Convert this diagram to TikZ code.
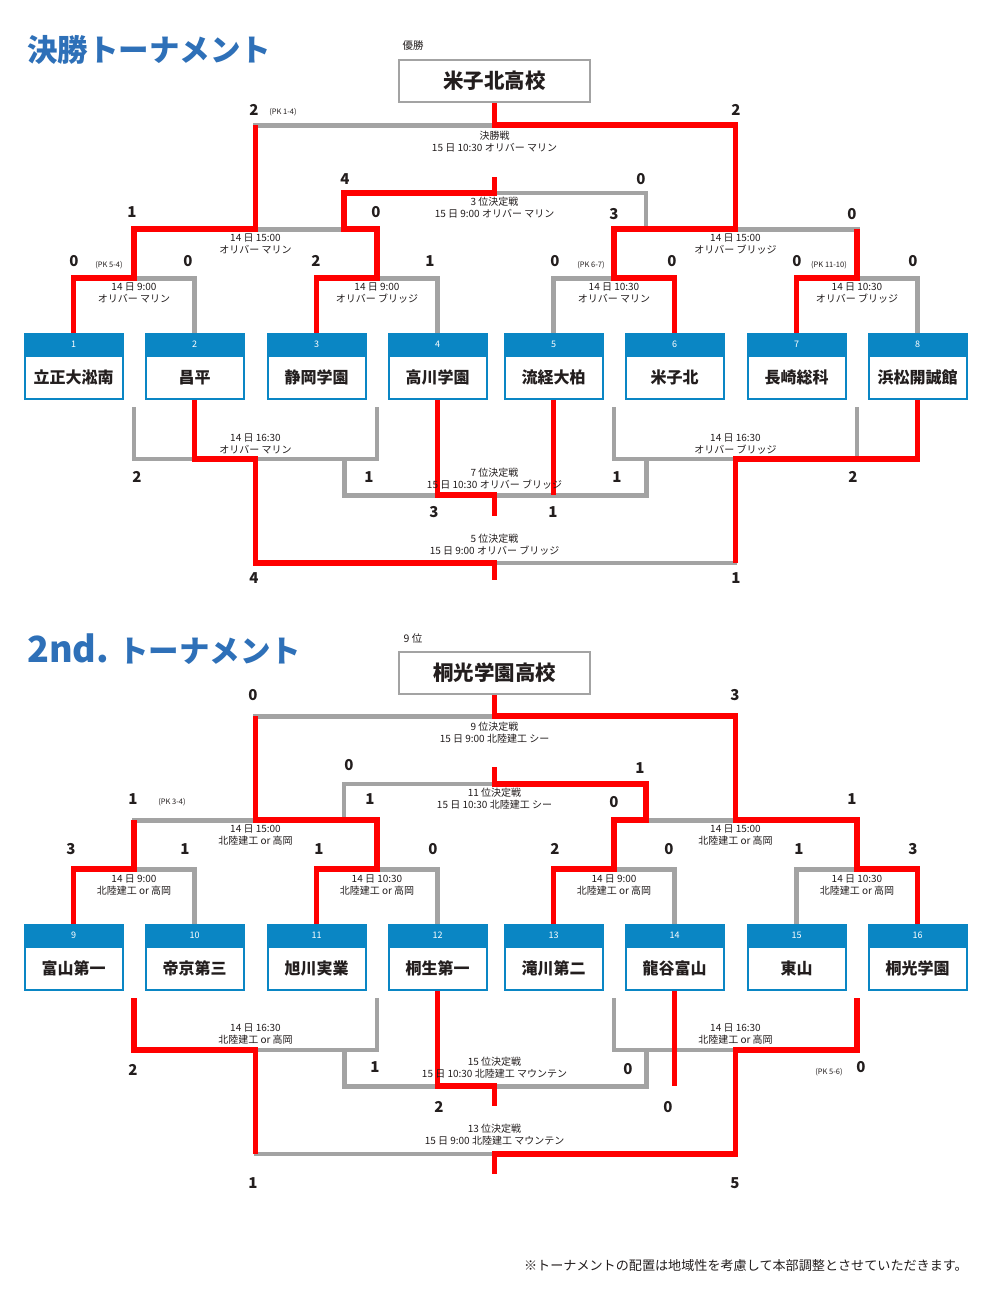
\documentclass[tikz,border=0pt]{standalone}
\usepackage{fontspec}
\setmainfont{Noto Sans CJK JP}

\definecolor{winred}{RGB}{255,0,0}
\definecolor{losegray}{RGB}{163,163,163}
\definecolor{boxblue}{RGB}{10,134,196}
\definecolor{titleblue}{RGB}{46,112,184}
\definecolor{ink}{RGB}{35,30,30}

\tikzset{
  win/.style={draw=winred, line width=5.5pt},
  lose/.style={draw=losegray, line width=5pt},
  thinlose/.style={draw=losegray, line width=3.5pt},
  team/.style={draw=boxblue, line width=2pt, fill=white, minimum width=98pt, minimum height=43pt, inner sep=0pt, font=\bfseries\fontsize{16}{16}\selectfont},
  head/.style={fill=boxblue, minimum width=100pt, minimum height=22pt, inner sep=0pt, text=white, font=\fontsize{9}{9}\selectfont},
  champ/.style={draw=losegray, line width=2pt, minimum width=191pt, minimum height=42pt, inner sep=0pt, font=\bfseries\fontsize{20.5}{20.5}\selectfont},
  score/.style={inner sep=0pt, font=\bfseries\fontsize{15}{15}\selectfont},
  pk/.style={inner sep=0pt, font=\fontsize{7.5}{7.5}\selectfont},
  info/.style={inner sep=0pt, align=center, font=\fontsize{10}{12}\selectfont},
  heading/.style={anchor=west, inner sep=0pt, text=titleblue, font=\bfseries\fontsize{30.5}{30.5}\selectfont},
  rank/.style={inner sep=0pt, font=\fontsize{10.5}{10.5}\selectfont}
}

\begin{document}
\begin{tikzpicture}[x=1pt, y=-1pt, every node/.style={text=ink}]

\fill[white] (0,0) rectangle (1000,1298);
\useasboundingbox (0,0) rectangle (1000,1298);

% headings
\node[heading] (title1) at (27,50) {決勝トーナメント};
\node[heading] (title2) at (27,649) {{\fontsize{36}{36}\selectfont 2nd.} トーナメント};
\node[rank] (rank1) at (413,46) {優勝};
\node[rank] (rank2) at (413,639) {9 位};
\node[champ] (achamp) at (494.5,81) {米子北高校};
\node[champ] (bchamp) at (494.5,673) {桐光学園高校};

% team boxes
\foreach \p/\k/\x/\y/\name [count=\n] in {
  a/1/73.5/377.5/立正大淞南, a/2/194.5/377.5/昌平, a/3/316.5/377.5/静岡学園, a/4/437.5/377.5/高川学園,
  a/5/553.5/377.5/流経大柏, a/6/674.5/377.5/米子北, a/7/796.5/377.5/長崎総科, a/8/917.5/377.5/浜松開誠館,
  b/1/73.5/968.5/富山第一, b/2/194.5/968.5/帝京第三, b/3/316.5/968.5/旭川実業, b/4/437.5/968.5/桐生第一,
  b/5/553.5/968.5/滝川第二, b/6/674.5/968.5/龍谷富山, b/7/796.5/968.5/東山, b/8/917.5/968.5/桐光学園}
{
  \node[head] (\p h\k) at (\x,\y-33.5) {\n};
  \node[team] (\p t\k) at (\x,\y) {\name};
}

% bracket lines, same for both tournaments
\foreach \p/\dy in {a/0, b/591}
{
\begin{scope}[shift={(0,\dy)}]
  \coordinate (\p m1) at (134,278);
  \coordinate (\p m2) at (377,278);
  \coordinate (\p m3) at (614,278);
  \coordinate (\p m4) at (857,278);
  \coordinate (\p s1) at (255.5,229);
  \coordinate (\p s2) at (735.5,229);
  \coordinate (\p f) at (494.5,125);
  \coordinate (\p p3) at (494.5,193);
  \coordinate (\p p3l) at (344,229);
  \coordinate (\p p3r) at (646,229);
  \coordinate (\p u1) at (134,407);
  \coordinate (\p u2) at (377,407);
  \coordinate (\p u3) at (614,407);
  \coordinate (\p u4) at (857,407);
  \coordinate (\p c1) at (255.5,459);
  \coordinate (\p c2) at (735.5,459);
  \coordinate (\p v1) at (344,459);
  \coordinate (\p v2) at (646,459);
  \coordinate (\p p7) at (494.5,495);
  \coordinate (\p p5) at (494.5,563);
\end{scope}
  \draw[lose] (\p h1.north) |- (\p m1) -| (\p h2.north);
  \draw[lose] (\p h3.north) |- (\p m2) -| (\p h4.north);
  \draw[lose] (\p h5.north) |- (\p m3) -| (\p h6.north);
  \draw[lose] (\p h7.north) |- (\p m4) -| (\p h8.north);
  \draw[lose] (\p m1) |- (\p s1) -| (\p m2);
  \draw[lose] (\p m3) |- (\p s2) -| (\p m4);
  \draw[lose] (\p s1) |- (\p f) -| (\p s2);
  \draw[thinlose] (\p p3l) |- (\p p3) -| (\p p3r);
  \draw[thinlose] (\p u1) |- (\p c1) -| (\p u2);
  \draw[thinlose] (\p u3) |- (\p c2) -| (\p u4);
  \draw[lose] (\p v1) |- (\p p7) -| (\p v2);
  \draw[thinlose] (\p c1) |- (\p p5) -| (\p c2);
}

% winners, top
\draw[win] (ah1.north) |- (am1) -- (am1 |- as1) -- (as1) -- (as1 |- af);
\draw[win] (ah3.north) |- (am2) -- (am2 |- as1) -- (ap3l) |- (ap3) -- ++(0,-16);
\draw[win] (ah6.north) |- (am3) -- (am3 |- as2) -- (as2) |- (af) -- (achamp.south);
\draw[win] (ah7.north) |- (am4) -- (am4 |- as2);
\draw[win] (at2.south) |- (ac1) -- (ac1 |- ap5) -- (ap5) -- ++(0,17);
\draw[win] (at4.south) |- (ap7) -- ++(0,21);
\draw[win] (at5.south) -- (at5.south |- ap7);
\draw[win] (at8.south) |- (ac2) -- (ac2 |- ap5);

% winners, bottom
\draw[win] (bh1.north) |- (bm1) -- (bm1 |- bs1);
\draw[win] (bh3.north) |- (bm2) -- (bm2 |- bs1) -- (bs1) -- (bs1 |- bf);
\draw[win] (bh5.north) |- (bm3) -- (bm3 |- bs2) -- (bp3r) |- (bp3) -- ++(0,-17);
\draw[win] (bh8.north) |- (bm4) -- (bm4 |- bs2) -- (bs2) |- (bf) -- (bchamp.south);
\draw[win] (bu1) |- (bc1) -- (bc1 |- bp5);
\draw[win] (bu4) |- (bc2) -- (bc2 |- bp5) -- (bp5) -- ++(0,20);
\draw[win] (bt4.south) |- (bp7) -- ++(0,20);
\draw[win] (bt6.south) -- (bt6.south |- bp7);

% match labels
\foreach \at/\anc/\sh/\txt [count=\i] in {
  af/north/-6/{決勝戦\\15 日 10:30 オリバー マリン},
  ap3/north/-4/{3 位決定戦\\15 日 9:00 オリバー マリン},
  as1/north/-5/{14 日 15:00\\オリバー マリン},
  as2/north/-5/{14 日 15:00\\オリバー ブリッジ},
  am1/north/-5/{14 日 9:00\\オリバー マリン},
  am2/north/-5/{14 日 9:00\\オリバー ブリッジ},
  am3/north/-5/{14 日 10:30\\オリバー マリン},
  am4/north/-5/{14 日 10:30\\オリバー ブリッジ},
  ac1/south/5/{14 日 16:30\\オリバー マリン},
  ac2/south/5/{14 日 16:30\\オリバー ブリッジ},
  ap7/south/6/{7 位決定戦\\15 日 10:30 オリバー ブリッジ},
  ap5/south/8/{5 位決定戦\\15 日 9:00 オリバー ブリッジ},
  bf/north/-6/{9 位決定戦\\15 日 9:00 北陸建工 シー},
  bp3/north/-4/{11 位決定戦\\15 日 10:30 北陸建工 シー},
  bs1/north/-5/{14 日 15:00\\北陸建工 or 高岡},
  bs2/north/-5/{14 日 15:00\\北陸建工 or 高岡},
  bm1/north/-6/{14 日 9:00\\北陸建工 or 高岡},
  bm2/north/-6/{14 日 10:30\\北陸建工 or 高岡},
  bm3/north/-6/{14 日 9:00\\北陸建工 or 高岡},
  bm4/north/-6/{14 日 10:30\\北陸建工 or 高岡},
  bc1/south/5/{14 日 16:30\\北陸建工 or 高岡},
  bc2/south/5/{14 日 16:30\\北陸建工 or 高岡},
  bp7/south/7.5/{15 位決定戦\\15 日 10:30 北陸建工 マウンテン},
  bp5/south/8/{13 位決定戦\\15 日 9:00 北陸建工 マウンテン}}
  \node[info, anchor=\anc, yshift=\sh pt] (inf\i) at (\at) {\txt};

% scores
\foreach \x/\y/\s [count=\i] in {
  254/110/2, 736/110/2, 345/179/4, 641/179/0, 132/212/1, 376/212/0, 614/214/3, 852/214/0,
  74/261/0, 188/261/0, 316/261/2, 430/261/1, 555/261/0, 672/261/0, 797/261/0, 913/261/0,
  137/477/2, 369/477/1, 617/477/1, 853/477/2, 434/512/3, 553/512/1, 254/578/4, 736/578/1,
  253/695/0, 735/695/3, 349/765/0, 640/768/1, 133/799/1, 370/799/1, 614/802/0, 852/799/1,
  71/849/3, 185/849/1, 319/849/1, 433/849/0, 555/849/2, 669/849/0, 799/849/1, 913/849/3,
  133/1070/2, 375/1067/1, 628/1069/0, 861/1067/0, 439/1107/2, 668/1107/0, 253/1183/1, 735/1183/5}
  \node[score] (sc\i) at (\x,\y) {\s};

\foreach \x/\y/\s [count=\i] in {
  283/112/(PK 1-4), 109/265/(PK 5-4), 591/265/(PK 6-7), 829/265/(PK 11-10),
  172/802/(PK 3-4), 829/1072/(PK 5-6)}
  \node[pk] (pk\i) at (\x,\y) {\s};

\node[anchor=east, inner sep=0pt, font=\fontsize{13.1}{13.1}\selectfont] (note) at (968,1266)
  {※トーナメントの配置は地域性を考慮して本部調整とさせていただきます。};

\end{tikzpicture}
\end{document}
